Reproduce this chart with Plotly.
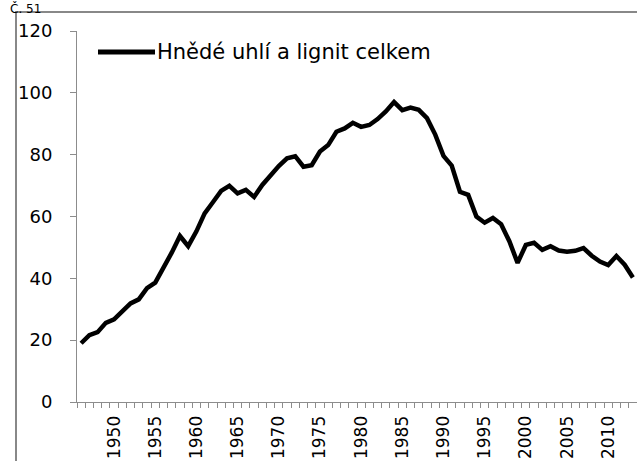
import plotly.graph_objects as go

# ---- data ----
years = list(range(1946, 2014))
values = [
    19.0, 21.6, 22.6, 25.6, 26.7, 29.2, 31.9, 33.2, 36.8, 38.6,   # 1946-1955
    43.3, 48.3, 53.7, 50.4, 55.2, 61.0, 64.6, 68.3, 69.9, 67.5,   # 1956-1965
    68.6, 66.3, 70.2, 73.5, 76.3, 78.8, 79.5, 76.1, 76.6, 81.0,   # 1966-1975
    83.1, 87.4, 88.5, 90.3, 89.0, 89.6, 91.5, 94.0, 97.0, 94.4,   # 1976-1985
    95.2, 94.5, 91.8, 86.5, 79.6, 76.5, 68.0, 67.0, 60.0, 58.0,   # 1986-1995
    59.5, 57.5, 52.0, 45.0, 50.8, 51.5, 49.2, 50.4, 49.0, 48.6,   # 1996-2005
    48.9, 49.8, 47.3, 45.4, 44.3, 47.2, 44.4, 40.3,               # 2006-2013
]
series_name = "Hnědé uhlí a lignit celkem"
x_tickvals = [1950, 1955, 1960, 1965, 1970, 1975, 1980, 1985, 1990, 1995, 2000, 2005, 2010]
x_ticktext = [str(v) for v in x_tickvals]
y_tickvals = [0, 20, 40, 60, 80, 100, 120]
y_ticktext = [str(v) for v in y_tickvals]
title_text = "Č. 51"

FONT = "DejaVu Sans"
AXIS_GRAY = "#8c8c8c"

W, H = 637, 461
ML, MR, MT, MB = 77, 0, 31, 59
PW = W - ML - MR
PH = H - MT - MB


def px_x(px):
    return (px - ML) / PW


def px_y(py):
    return (H - MB - py) / PH


fig = go.Figure()
fig.add_trace(go.Scatter(
    x=years, y=values, mode="lines", name=series_name,
    line=dict(color="black", width=4.5),
    showlegend=False, cliponaxis=False, hoverinfo="skip",
))

fig.update_layout(
    width=W, height=H,
    margin=dict(l=ML, r=MR, t=MT, b=MB, pad=0, autoexpand=False),
    paper_bgcolor="white", plot_bgcolor="white",
    font=dict(family=FONT, size=18, color="black"),
    showlegend=False,
)

fig.update_xaxes(
    automargin=False,
    range=[1945.5, 2013.5],
    tickmode="array", tickvals=x_tickvals, ticktext=x_ticktext,
    tickangle=-90,
    ticks="", showgrid=False, zeroline=False,
    showline=True, linecolor=AXIS_GRAY, linewidth=1,
    tickfont=dict(family=FONT, size=17, color="black"),
    ticklabelstandoff=6,
    minor=dict(ticks="outside", tickmode="linear", tick0=1945.5, dtick=1,
               ticklen=5, tickcolor=AXIS_GRAY, tickwidth=1, showgrid=False),
)
fig.update_yaxes(
    automargin=False,
    range=[0, 120],
    tickmode="array", tickvals=y_tickvals, ticktext=y_ticktext,
    ticks="outside", ticklen=6, tickcolor=AXIS_GRAY, tickwidth=1,
    showgrid=False, zeroline=False,
    showline=True, linecolor=AXIS_GRAY, linewidth=1,
    tickfont=dict(family=FONT, size=18, color="black"),
    ticklabelstandoff=14,
)

# outer frame (partially outside the picture)
fig.add_shape(type="rect", xref="paper", yref="paper",
              x0=px_x(16), x1=px_x(700), y0=px_y(12), y1=px_y(520),
              line=dict(color="#888888", width=2), fillcolor="rgba(0,0,0,0)",
              layer="below")

# legend (line sample + label)
fig.add_shape(type="line", xref="paper", yref="paper",
              x0=px_x(98), x1=px_x(155), y0=px_y(52), y1=px_y(52),
              line=dict(color="black", width=5))
fig.add_annotation(xref="paper", yref="paper", x=px_x(155), y=px_y(52),
                   xanchor="left", yanchor="middle", showarrow=False,
                   text=series_name, font=dict(family=FONT, size=21, color="black"))

# caption at very top-left
fig.add_annotation(xref="paper", yref="paper", x=px_x(9), y=px_y(0),
                   xanchor="left", yanchor="top", showarrow=False,
                   borderpad=0,
                   text=title_text, font=dict(family=FONT, size=12, color="black"))

fig.write_html(
    "out.html",
    config={"displayModeBar": False},
    post_script="document.body.style.margin='0';document.body.style.overflow='hidden';",
)
